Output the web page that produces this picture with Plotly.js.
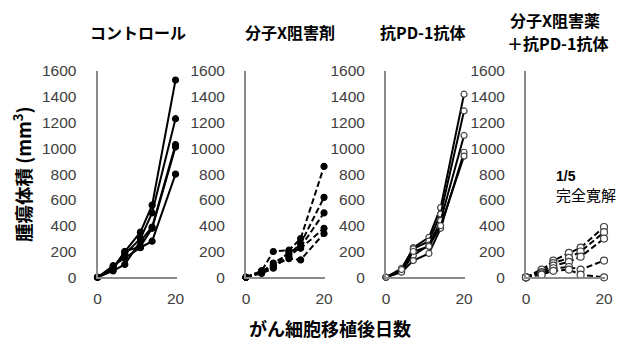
<!DOCTYPE html>
<html>
<head>
<meta charset="utf-8">
<script src="https://cdn.plot.ly/plotly-3.0.1.min.js"></script>
<style>html,body{margin:0;padding:0;background:#fff;}#chart{width:624px;height:349px;}</style>
</head>
<body>
<div id="chart"></div>
<script>
// Days after tumor implantation
const days = [0, 4, 7, 11, 14, 20];

// Panel titles (last one is two lines)
const panelTitles = ["コントロール", "分子X阻害剤", "抗PD-1抗体"];
const comboTitleLines = ["分子X阻害薬", "＋抗PD-1抗体"];

// Control (solid, filled markers)
const control = [
  [0, 60, 200, 350, 560, 1530],
  [0, 80, 180, 300, 500, 1230],
  [0, 50, 100, 280, 390, 1030],
  [0, 70, 200, 240, 380, 1010],
  [0, 90, 150, 230, 280, 800]
];
// Molecule X inhibitor (dashed, filled markers)
const inhibitorX = [
  [0, 50, 200, 210, 300, 860],
  [0, 40, 110, 180, 260, 620],
  [0, 50, 80, 160, 235, 500],
  [0, 30, 70, 200, 225, 380],
  [0, 40, 90, 145, 135, 340]
];
// Anti-PD-1 antibody (solid, open markers)
const antiPD1 = [
  [0, 60, 230, 310, 540, 1420],
  [0, 70, 220, 280, 490, 1290],
  [0, 50, 170, 250, 440, 1100],
  [0, 40, 130, 185, 380, 970],
  [0, 60, 200, 240, 400, 940]
];
// Combination (dashed, open markers)
const combo = [
  [0, 50, 130, 190, 230, 390],
  [0, 60, 110, 150, 200, 350],
  [0, 40, 90, 120, 160, 300],
  [0, 30, 70, 80, 60, 130],
  [0, 20, 50, 60, 20, 0]
];

const yTicks = [0, 200, 400, 600, 800, 1000, 1200, 1400, 1600];
const xTicks = [0, 20];

const W = 624, H = 349;
const font = "Arial, 'Liberation Sans', 'Noto Sans CJK JP', sans-serif";
const jpFont = "'Noto Sans CJK JP', Arial, sans-serif";

const panels = [
  {data: control, dash: 'solid', fill: '#000000', line: '#000000', size: 6},
  {data: inhibitorX, dash: '6px,3px', fill: '#000000', line: '#000000', size: 6},
  {data: antiPD1, dash: 'solid', fill: '#ffffff', line: '#444444', size: 6},
  {data: combo, dash: '6px,3px', fill: '#ffffff', line: '#444444', size: 7}
];

const axisLeft = [97.5, 246, 386, 526];
const axisW = 79.2;
const yBottom = 277.3, yTop = 71;

const traces = [];
const layout = {
  width: W, height: H,
  margin: {l: 0, r: 0, t: 0, b: 0},
  paper_bgcolor: '#ffffff', plot_bgcolor: 'rgba(0,0,0,0)',
  showlegend: false,
  annotations: []
};

panels.forEach((p, i) => {
  const xa = i === 0 ? 'x' : 'x' + (i + 1);
  const ya = i === 0 ? 'y' : 'y' + (i + 1);
  p.data.forEach(series => {
    traces.push({
      x: days, y: series, xaxis: xa, yaxis: ya,
      type: 'scatter', mode: 'lines+markers', cliponaxis: false,
      line: {color: '#000000', width: 2, dash: p.dash},
      marker: {size: p.size, color: p.fill, line: {color: p.line, width: 1.2}}
    });
  });
  const xKey = i === 0 ? 'xaxis' : 'xaxis' + (i + 1);
  const yKey = i === 0 ? 'yaxis' : 'yaxis' + (i + 1);
  const yDomain = [1 - yBottom / H, 1 - yTop / H];
  layout[xKey] = {
    domain: [axisLeft[i] / W, (axisLeft[i] + axisW) / W],
    range: [0, 20.3], anchor: ya,
    tickmode: 'array', tickvals: xTicks, ticktext: xTicks.map(String),
    showline: true, linecolor: '#8c8c8c', linewidth: 2,
    ticks: '', showgrid: false, zeroline: false,
    ticklabelstandoff: 6,
    tickfont: {family: font, size: 15.5, color: '#404040'}
  };
  // main y-axis: labels pushed out with transparent outside ticks
  layout[yKey] = {
    domain: yDomain,
    range: [0, 1600], anchor: xa,
    tickmode: 'array', tickvals: yTicks, ticktext: yTicks.map(String),
    showline: true, linecolor: '#8c8c8c', linewidth: 2,
    ticks: 'outside', ticklen: 16, tickcolor: 'rgba(0,0,0,0)',
    showgrid: false, zeroline: false,
    tickfont: {family: font, size: 15.5, color: '#404040'}
  };
  // overlay y-axis: short inside tick marks
  const ovKey = 'yaxis' + (i + 5);
  layout[ovKey] = {
    domain: yDomain, overlaying: ya, anchor: xa, side: 'left',
    range: [0, 1600],
    tickmode: 'array', tickvals: yTicks,
    showticklabels: false, showline: false, showgrid: false, zeroline: false,
    ticks: 'inside', ticklen: 3, tickwidth: 1.5, tickcolor: '#8c8c8c'
  };
});

// Panel titles
const titlePos = [[138, 32], [290, 32], [422, 32]];
panelTitles.forEach((t, i) => {
  layout.annotations.push({
    text: '<b>' + t + '</b>', xref: 'paper', yref: 'paper',
    x: titlePos[i][0] / W, y: 1 - titlePos[i][1] / H,
    xanchor: 'center', yanchor: 'middle', showarrow: false,
    font: {family: jpFont, size: 16, color: '#000000'}
  });
});
const comboTitlePos = [[555, 20], [557, 43]];
comboTitleLines.forEach((t, i) => {
  layout.annotations.push({
    text: '<b>' + t + '</b>', xref: 'paper', yref: 'paper',
    x: comboTitlePos[i][0] / W, y: 1 - comboTitlePos[i][1] / H,
    xanchor: 'center', yanchor: 'middle', showarrow: false,
    font: {family: jpFont, size: 16, color: '#000000'}
  });
});

// Complete remission annotation
layout.annotations.push({
  text: '<b>1/5</b>', xref: 'paper', yref: 'paper',
  x: 554 / W, y: 1 - 176 / H, xanchor: 'left', yanchor: 'middle', showarrow: false,
  font: {family: font, size: 14, color: '#000000'}
});
layout.annotations.push({
  text: '完全寛解', xref: 'paper', yref: 'paper',
  x: 554 / W, y: 1 - 194 / H, xanchor: 'left', yanchor: 'middle', showarrow: false,
  font: {family: jpFont, size: 15, color: '#000000'}
});

// Axis titles
layout.annotations.push({
  text: '<b>腫瘍体積 (mm<sup>3</sup>)</b>', xref: 'paper', yref: 'paper',
  x: 22 / W, y: 1 - 174 / H, xanchor: 'center', yanchor: 'middle', showarrow: false,
  textangle: -90,
  font: {family: jpFont, size: 18.5, color: '#000000'}
});
layout.annotations.push({
  text: '<b>がん細胞移植後日数</b>', xref: 'paper', yref: 'paper',
  x: 330 / W, y: 1 - 328 / H, xanchor: 'center', yanchor: 'middle', showarrow: false,
  font: {family: jpFont, size: 18, color: '#000000'}
});

Plotly.newPlot('chart', traces, layout, {staticPlot: true, displayModeBar: false});
</script>
</body>
</html>
